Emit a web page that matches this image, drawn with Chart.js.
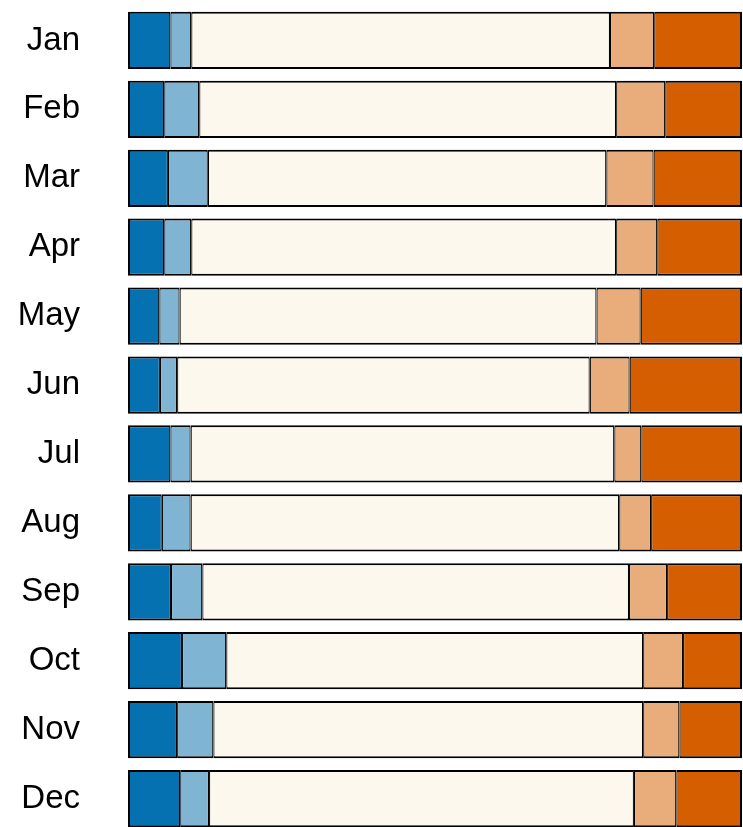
<!DOCTYPE html>
<html>
<head>
<meta charset="utf-8">
<script src="https://cdn.jsdelivr.net/npm/chart.js@4"></script>
<style>
  html, body { margin: 0; padding: 0; background: #fff; overflow: hidden; }
  #wrap { position: relative; width: 743px; height: 840px; }
</style>
</head>
<body>
<div id="wrap"><canvas id="mainChart"></canvas></div>
<script>
const months = ["Jan", "Feb", "Mar", "Apr", "May", "Jun", "Jul", "Aug", "Sep", "Oct", "Nov", "Dec"];

/* share of each group per month, in percent */
const strongA = [6.9, 5.9, 6.5, 5.9, 5.1, 5.2, 6.9, 5.5, 7.0, 8.8, 8.0, 8.5];
const mildA   = [3.4, 5.7, 6.5, 4.4, 3.3, 2.8, 3.3, 4.7, 5.1, 7.2, 5.9, 4.7];
const neutral = [68.2, 67.9, 64.9, 69.2, 67.9, 67.2, 69.0, 69.8, 69.5, 67.9, 70.0, 69.2];
const mildB   = [7.2, 8.0, 7.7, 6.7, 7.2, 6.5, 4.4, 5.2, 6.2, 6.5, 5.9, 6.9];
const strongB = [14.3, 12.5, 14.4, 13.8, 16.5, 18.3, 16.4, 14.8, 12.2, 9.6, 10.2, 10.7];

const colors = ["#0571b0", "#80b4d3", "#fdf8ed", "#e9ad7b", "#d55e00"];
const series = [strongA, mildA, neutral, mildB, strongB];

const ctx = document.getElementById("mainChart");

const datasets = series.map((vals, i) => ({
  data: vals,
  backgroundColor: colors[i],
  borderColor: "#000",
  borderWidth: {
    top: 2,
    bottom: 2,
    left: i === 0 ? 2 : 1.2,
    right: i === series.length - 1 ? 2 : 1.2
  },
  borderSkipped: false,
  barPercentage: 0.83,
  categoryPercentage: 1
}));

new Chart(ctx, {
  type: "bar",
  data: { labels: months, datasets: datasets },
  options: {
    indexAxis: "y",
    responsive: true,
    maintainAspectRatio: false,
    animation: false,
    layout: { padding: { top: 6, bottom: 7, right: 1 } },
    plugins: {
      legend: { display: false },
      tooltip: { enabled: false }
    },
    scales: {
      x: {
        stacked: true,
        min: 0,
        max: 100,
        display: false
      },
      y: {
        stacked: true,
        border: { display: false },
        grid: { display: false, drawTicks: false },
        ticks: {
          color: "#000",
          padding: 48,
          font: { family: "Liberation Sans, Arial, sans-serif", size: 33 }
        },
        afterFit: (axis) => {
          axis.width = 128;
          // tick padding would otherwise be added above and below the bars too
          axis.paddingTop = 0;
          axis.paddingBottom = 0;
        }
      }
    }
  }
});
</script>
</body>
</html>
